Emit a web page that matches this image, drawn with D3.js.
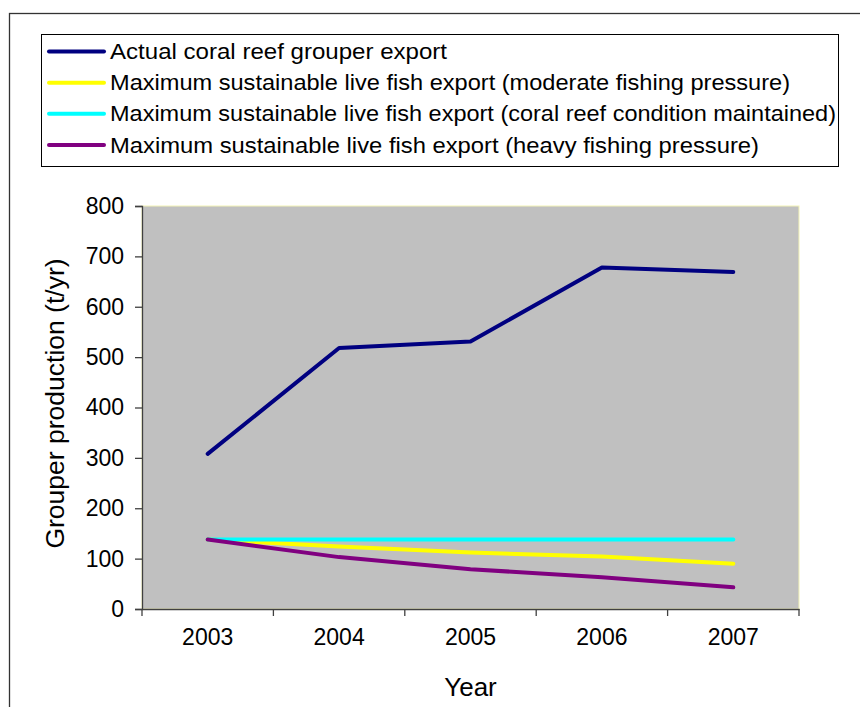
<!DOCTYPE html>
<html>
<head>
<meta charset="utf-8">
<script src="https://cdn.jsdelivr.net/npm/d3@7"></script>
<style>
  body { margin: 0; background: #fff; }
  text { font-family: "Liberation Sans", Arial, sans-serif; fill: #000; }
</style>
</head>
<body>
<div id="chart"></div>
<script>
const years = ['2003', '2004', '2005', '2006', '2007'];
const actualExport = [308, 518, 531, 678, 669];
const moderatePressure = [138, 124, 112, 104, 90];
const reefMaintained = [138, 138, 138, 138, 138];
const heavyPressure = [138, 103, 79, 63, 43];
const yTicks = [0, 100, 200, 300, 400, 500, 600, 700, 800];

const seriesNames = [
  'Actual coral reef grouper export',
  'Maximum sustainable live fish export (moderate fishing pressure)',
  'Maximum sustainable live fish export (coral reef condition maintained)',
  'Maximum sustainable live fish export (heavy fishing pressure)'
];
const seriesValues = [actualExport, moderatePressure, reefMaintained, heavyPressure];
const seriesColors = ['#000080', '#ffff00', '#00ffff', '#800080'];
// rendered width of each legend label in the original
const legendTextWidths = [337, 680, 726, 649];

const W = 860, H = 707;
const margin = { top: 206, right: 61, bottom: 98, left: 142 };
const width = W - margin.left - margin.right;
const height = H - margin.top - margin.bottom;

const svg = d3.select('#chart')
  .append('svg')
  .attr('width', W)
  .attr('height', H);

// outer chart border
svg.append('rect')
  .attr('x', 9.5).attr('y', 13.5)
  .attr('width', 900).attr('height', 800)
  .attr('fill', 'none')
  .attr('stroke', '#333')
  .attr('stroke-width', 1.3);

const g = svg.append('g')
  .attr('transform', `translate(${margin.left},${margin.top})`);

// plot area
g.append('rect')
  .attr('width', width)
  .attr('height', height)
  .attr('fill', '#c0c0c0')
  .attr('stroke', '#f4f4b8')
  .attr('stroke-width', 1);

const x = d3.scaleBand()
  .domain(years)
  .range([0, width]);

const y = d3.scaleLinear()
  .domain([0, 800])
  .range([height, 0]);

// y axis
const yAxis = g.append('g')
  .call(d3.axisLeft(y).tickValues(yTicks).tickSize(7).tickPadding(11));
yAxis.select('.domain').attr('stroke', '#404040').attr('stroke-width', 1.3);
yAxis.selectAll('.tick line').attr('stroke', '#404040').attr('stroke-width', 1.3);
yAxis.selectAll('.tick text')
  .attr('font-size', 23)
  .attr('font-family', '"Liberation Sans", Arial, sans-serif')
  .attr('fill', '#000');

// x axis, ticks between categories
const xAxis = g.append('g')
  .attr('transform', `translate(0,${height})`)
  .call(d3.axisBottom(x).tickSize(0).tickPadding(20));
xAxis.select('.domain').attr('stroke', '#404040').attr('stroke-width', 1.3);
xAxis.selectAll('.tick text')
  .attr('font-size', 23)
  .attr('font-family', '"Liberation Sans", Arial, sans-serif')
  .attr('fill', '#000');

const boundaries = years.map(d => x(d)).concat([width]);
xAxis.selectAll('.sep')
  .data(boundaries)
  .enter()
  .append('line')
  .attr('class', 'sep')
  .attr('x1', d => d).attr('x2', d => d)
  .attr('y1', 0).attr('y2', 7)
  .attr('stroke', '#404040')
  .attr('stroke-width', 1.3);

// axis titles
svg.append('text')
  .attr('x', margin.left + width / 2)
  .attr('y', 696)
  .attr('text-anchor', 'middle')
  .attr('font-size', 26)
  .text('Year');

svg.append('text')
  .attr('transform', `translate(64,${margin.top + height / 2 - 4}) rotate(-90)`)
  .attr('text-anchor', 'middle')
  .attr('font-size', 26.5)
  .text('Grouper production (t/yr)');

// series lines
const line = d3.line()
  .x((d, i) => x(years[i]) + x.bandwidth() / 2)
  .y(d => y(d));

g.selectAll('.series')
  .data(seriesValues)
  .enter()
  .append('path')
  .attr('class', 'series')
  .attr('d', d => line(d))
  .attr('fill', 'none')
  .attr('stroke', (d, i) => seriesColors[i])
  .attr('stroke-width', 4)
  .attr('stroke-linejoin', 'round')
  .attr('stroke-linecap', 'round');

// legend
const legend = svg.append('g');
legend.append('rect')
  .attr('x', 41.5).attr('y', 34.5)
  .attr('width', 797).attr('height', 132)
  .attr('fill', '#fff')
  .attr('stroke', '#000')
  .attr('stroke-width', 1);

const rowY = d3.scaleLinear().domain([0, 3]).range([51.5, 145]);

const rows = legend.selectAll('.row')
  .data(seriesNames)
  .enter()
  .append('g')
  .attr('class', 'row')
  .attr('transform', (d, i) => `translate(0,${rowY(i)})`);

rows.append('line')
  .attr('x1', 49).attr('x2', 104)
  .attr('stroke', (d, i) => seriesColors[i])
  .attr('stroke-width', 4)
  .attr('stroke-linecap', 'round');

rows.append('text')
  .attr('x', 110)
  .attr('y', 7.5)
  .attr('font-size', 22.5)
  .attr('textLength', (d, i) => legendTextWidths[i])
  .attr('lengthAdjust', 'spacingAndGlyphs')
  .text(d => d);
</script>
</body>
</html>
